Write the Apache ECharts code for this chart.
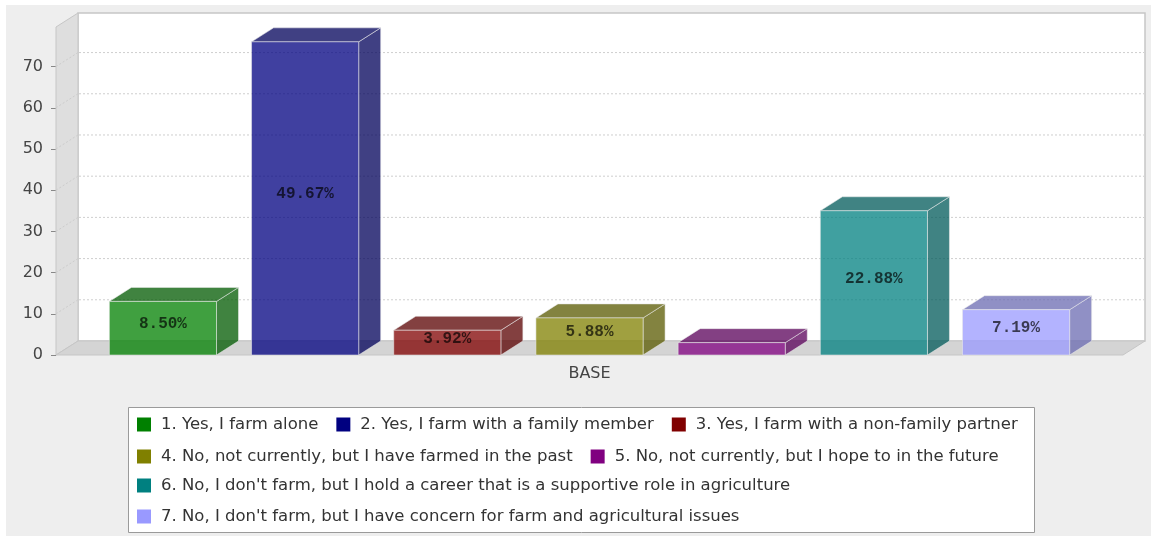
<!DOCTYPE html>
<html>
<head>
<meta charset="utf-8">
<script src="https://cdn.jsdelivr.net/npm/echarts@6/dist/echarts.min.js"></script>
<style>
  html, body { margin: 0; padding: 0; background: #ffffff; }
  #chart { width: 1151px; height: 536px; }
</style>
</head>
<body>
<div id="chart"></div>
<script>
// ---- data ----
const categories = ['BASE'];
const seriesNames = [
  '1. Yes, I farm alone',
  '2. Yes, I farm with a family member',
  '3. Yes, I farm with a non-family partner',
  '4. No, not currently, but I have farmed in the past',
  '5. No, not currently, but I hope to in the future',
  "6. No, I don't farm, but I hold a career that is a supportive role in agriculture",
  "7. No, I don't farm, but I have concern for farm and agricultural issues"
];
const counts = [13, 76, 6, 9, 3, 35, 11];
const yTicks = [0, 10, 20, 30, 40, 50, 60, 70];
const legendRows = [[0, 1, 2], [3, 4], [5], [6]];

// ---- styling ----
const colors = ['#008000', '#000080', '#800000', '#808000', '#800080', '#008080', '#9999ff'];
const DX = 22, DY = -14;          // 3D depth offset
const ALPHA = 0.75;               // bar face opacity
const CAT_MARGIN = 0.05;          // empty share at each end of the category band
const GAP_RATIO = 0.327;          // gap between bars relative to bar width
const FONT = '"DejaVu Sans", sans-serif';

const total = counts.reduce((a, b) => a + b, 0);

function rgba(hex, a, k) {
  k = k == null ? 1 : k;
  const n = parseInt(hex.slice(1), 16);
  const r = Math.floor(((n >> 16) & 255) * k);
  const g = Math.floor(((n >> 8) & 255) * k);
  const b = Math.floor((n & 255) * k);
  return 'rgba(' + r + ',' + g + ',' + b + ',' + a + ')';
}

// back wall, left wall, floor and gridlines of the 3D plot box
function renderWalls(params, api) {
  const cs = params.coordSys;
  const x0 = cs.x, x1 = cs.x + cs.width, yT = cs.y, yB = cs.y + cs.height;
  const children = [];
  children.push({
    type: 'rect',
    shape: { x: x0 + DX, y: yT + DY, width: cs.width, height: cs.height },
    style: { fill: '#ffffff', stroke: '#c6c6c6', lineWidth: 1.5 }
  });
  children.push({
    type: 'polygon',
    shape: { points: [[x0, yT], [x0 + DX, yT + DY], [x0 + DX, yB + DY], [x0, yB]] },
    style: { fill: '#dedede', stroke: '#c6c6c6', lineWidth: 1 }
  });
  children.push({
    type: 'polygon',
    shape: { points: [[x0, yB], [x0 + DX, yB + DY], [x1 + DX, yB + DY], [x1, yB]] },
    style: { fill: '#d4d4d4', stroke: '#c6c6c6', lineWidth: 1 }
  });
  yTicks.forEach(function (v) {
    if (v === 0) return;
    const y = api.coord([0, v])[1];
    children.push({
      type: 'line',
      shape: { x1: x0 + DX + 1, y1: y + DY, x2: x1 + DX - 1, y2: y + DY },
      style: { stroke: '#cfcfcf', lineWidth: 1, lineDash: [2, 2] }
    });
    children.push({
      type: 'line',
      shape: { x1: x0, y1: y, x2: x0 + DX, y2: y + DY },
      style: { stroke: '#cccccc', lineWidth: 1, lineDash: [2, 2] }
    });
  });
  return { type: 'group', children: children };
}

// one 3D bar per series
function makeBarRenderer(idx) {
  return function (params, api) {
    const cs = params.coordSys;
    const n = seriesNames.length;
    const band = cs.width;
    const inner = band * (1 - 2 * CAT_MARGIN);
    const w = inner / (n + (n - 1) * GAP_RATIO);
    const xL = cs.x + band * CAT_MARGIN + idx * w * (1 + GAP_RATIO);
    const xR = xL + w;
    const v = api.value(1);
    const yTop = api.coord([api.value(0), v])[1];
    const yBot = api.coord([api.value(0), 0])[1];
    const base = colors[idx];
    const front = rgba(base, ALPHA);
    const dark = rgba(base, ALPHA, 0.7);
    const edge = 'rgba(235,235,235,0.55)';
    const children = [
      {
        type: 'polygon',
        shape: { points: [[xR, yTop], [xR + DX, yTop + DY], [xR + DX, yBot + DY], [xR, yBot]] },
        style: { fill: dark, stroke: edge, lineWidth: 1 }
      },
      {
        type: 'polygon',
        shape: { points: [[xL, yTop], [xL + DX, yTop + DY], [xR + DX, yTop + DY], [xR, yTop]] },
        style: { fill: dark, stroke: edge, lineWidth: 1 }
      },
      {
        type: 'rect',
        shape: { x: xL, y: yTop, width: w, height: yBot - yTop },
        style: { fill: front, stroke: edge, lineWidth: 1 }
      }
    ];
    if (yBot - yTop >= 16) {
      children.push({
        type: 'text',
        x: (xL + xR) / 2,
        y: (yTop + yBot) / 2 - 4,
        style: {
          text: (v / total * 100).toFixed(2) + '%',
          font: 'bold 16px "Liberation Mono", monospace',
          fill: 'rgba(0,0,0,0.68)',
          align: 'center',
          verticalAlign: 'middle'
        }
      });
    }
    return { type: 'group', children: children };
  };
}

const series = [{
  type: 'custom',
  name: '__walls',
  z: 1,
  silent: true,
  clip: false,
  renderItem: renderWalls,
  data: [[0, 0]]
}];
seriesNames.forEach(function (name, i) {
  series.push({
    type: 'custom',
    name: name,
    z: 2,
    clip: false,
    itemStyle: { color: colors[i] },
    renderItem: makeBarRenderer(i),
    data: [[0, counts[i]]]
  });
});

const rowCenters = [424, 456, 485, 516];
const legends = legendRows.map(function (row, r) {
  return {
    data: row.map(function (i) { return seriesNames[i]; }),
    left: 137,
    top: rowCenters[r] - 8,
    orient: 'horizontal',
    padding: 0,
    icon: 'rect',
    itemWidth: 14,
    itemHeight: 14,
    itemGap: 18,
    textStyle: { fontFamily: FONT, fontSize: 16.5, color: '#333333', padding: [0, 0, 0, 5] }
  };
});

const chart = echarts.init(document.getElementById('chart'));
chart.setOption({
  animation: false,
  backgroundColor: '#ffffff',
  graphic: [
    { type: 'rect', z: -100, silent: true,
      shape: { x: 6, y: 5, width: 1145, height: 531 },
      style: { fill: '#eeeeee' } },
    { type: 'rect', z: 3, silent: true,
      shape: { x: 128.5, y: 407.5, width: 906, height: 125 },
      style: { fill: '#ffffff', stroke: '#9a9a9a', lineWidth: 1 } }
  ],
  grid: { left: 56, top: 27, width: 1067, height: 328, containLabel: false },
  xAxis: {
    type: 'category',
    data: categories,
    axisLine: { show: false },
    axisTick: { show: false },
    splitLine: { show: false },
    axisLabel: { margin: 11, fontFamily: FONT, fontSize: 16, color: '#444444' }
  },
  yAxis: {
    type: 'value',
    min: 0,
    max: 79.6,
    interval: 10,
    axisLine: { show: false },
    splitLine: { show: false },
    axisTick: { show: true, length: 5, customValues: yTicks, lineStyle: { color: '#888888' } },
    axisLabel: { margin: 13, customValues: yTicks, fontFamily: FONT, fontSize: 16, color: '#444444' }
  },
  legend: legends,
  series: series
});
</script>
</body>
</html>
